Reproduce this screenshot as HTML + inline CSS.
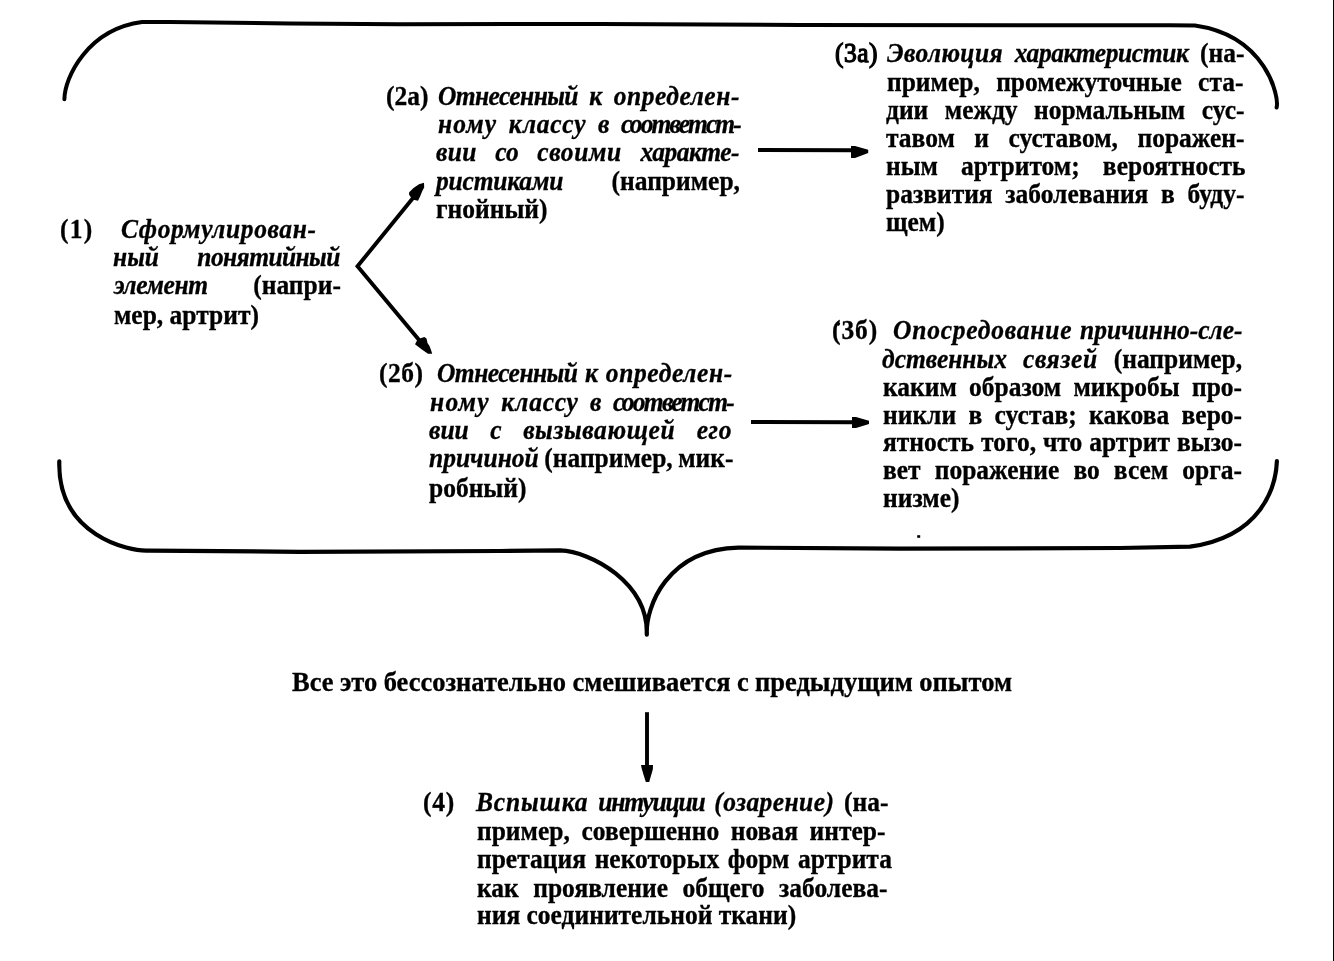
<!DOCTYPE html>
<html><head><meta charset="utf-8"><title>diagram</title>
<style>
html,body{margin:0;padding:0;background:#fff;}
body{width:1334px;height:961px;position:relative;overflow:hidden;font-family:"Liberation Serif",serif;font-weight:bold;color:#000;}
.ln{position:absolute;white-space:nowrap;line-height:28px;-webkit-text-stroke:0.3px #000;transform:scaleY(1.07);will-change:transform;}
.j{display:flex;justify-content:space-between;align-items:baseline;}
.j>span{display:block;}
i{font-style:italic;}
</style></head><body>
<svg width="1334" height="961" viewBox="0 0 1334 961" style="position:absolute;left:0;top:0">
<g fill="none" stroke="#000" stroke-linecap="round" stroke-linejoin="round">
  <path stroke-width="4" d="M64.4,99.3 C64.5,77.5 87.6,29.1 142.1,22 L170,21.9 L290,23.4 L400,24.2 L600,24 L800,25 L1170,25.3 L1195,25.4 C1266.5,35.7 1279.4,96.9 1276.6,107.5"/>
  <path stroke-width="4.2" d="M59.3,461.3 C57.2,535.8 129.5,551.6 148.4,550.6 L300,551.8 L500,551 L560,550.4 C590.8,551.4 648.5,582.8 646.8,634.7 C645.5,607 667,549.3 738.4,547.6 L900,548.7 L1120,548 L1190,546.6 C1261.8,536.5 1275.9,486.6 1276.9,461.2"/>
  <path stroke-width="3.9" stroke-linejoin="miter" stroke-linecap="butt" d="M413,198 L357.5,266.3 L419.5,340.5"/>
  <path stroke-width="3.9" stroke-linecap="butt" d="M758,150 L853,150.2"/>
  <path stroke-width="3.9" stroke-linecap="butt" d="M751,422 L854,422.2"/>
  <path stroke-width="3.9" stroke-linecap="butt" d="M647,712.2 L647,766"/>
</g>
<g fill="#000" stroke="none">
  <path d="M424,182.8 L424.2,187.5 L422.3,191 L420.3,196 L418,200.8 L412.3,199.6 L409,194.5 L409.2,192.2 L413.5,188 L419,184.2 Z"/>
  <path d="M432.2,353.8 L428,353.8 L421.5,349.3 L415,344.3 L417,340.5 L420,338.6 L424.3,336.9 L426.5,338.5 L427.5,343 L429.5,346 L431,350 Z"/>
  <path d="M851,146 L855,146 L868.2,149.8 L868.2,153 L855,158 L851,158 Z"/>
  <path d="M852,417 L856,417 L869,420.8 L869,424 L856,428 L852,428 Z"/>
  <path d="M641,765 L653,765 L652.8,769.5 L649.2,782 L645.8,782 L641.8,769 Z"/>
  <rect x="1333" y="0" width="1" height="961"/>
  <rect x="917.2" y="535.2" width="3" height="2.6"/>
  <ellipse cx="838.6" cy="324" rx="1.4" ry="2" transform="rotate(25 838.6 324)"/>
</g>
</svg>

<div class="ln" style="left:60.0px;top:215.89px;font-size:25.5px;transform-origin:0 22.61px;"><span style="letter-spacing:1.2px">(1)</span></div>
<div class="ln" style="left:120.5px;top:215.89px;font-size:25.5px;transform-origin:0 22.61px;"><i style="letter-spacing:0.6px">Сформулирован-</i></div>
<div class="ln j" style="left:112.7px;top:243.59px;font-size:25.5px;transform-origin:0 22.61px;width:226.8px;"><span><i>ный</i></span><span><i style="letter-spacing:-0.6px">понятийный</i></span></div>
<div class="ln j" style="left:113.6px;top:271.79px;font-size:25.5px;transform-origin:0 22.61px;width:226.9px;"><span><i style="letter-spacing:-0.4px">элемент</i></span><span>(напри-</span></div>
<div class="ln" style="left:113.6px;top:301.89px;font-size:25.5px;transform-origin:0 22.61px;">мер, артрит)</div>
<div class="ln" style="left:386.0px;top:82.99px;font-size:25.5px;transform-origin:0 22.61px;">(2а)</div>
<div class="ln j" style="left:437.5px;top:82.99px;font-size:25.5px;transform-origin:0 22.61px;width:302.0px;"><span><i style="letter-spacing:-0.6px">Отнесенный</i></span><span><i>к</i></span><span><i style="letter-spacing:0.55px">определен-</i></span></div>
<div class="ln j" style="left:437.5px;top:111.19px;font-size:25.5px;transform-origin:0 22.61px;width:302.0px;"><span><i style="letter-spacing:1.1px">ному</i></span><span><i style="letter-spacing:0.75px">классу</i></span><span><i>в</i></span><span><i style="letter-spacing:-1.85px">соответст-</i></span></div>
<div class="ln j" style="left:436.0px;top:138.99px;font-size:25.5px;transform-origin:0 22.61px;width:303.0px;"><span><i style="letter-spacing:0.3px">вии</i></span><span><i>со</i></span><span><i style="letter-spacing:0.6px">своими</i></span><span><i style="letter-spacing:-0.5px">характе-</i></span></div>
<div class="ln j" style="left:435.5px;top:167.89px;font-size:25.5px;transform-origin:0 22.61px;width:304.0px;"><span><i style="letter-spacing:-0.2px">ристиками</i></span><span>(например,</span></div>
<div class="ln" style="left:435.5px;top:195.89px;font-size:25.5px;transform-origin:0 22.61px;">гнойный)</div>
<div class="ln" style="left:379.4px;top:360.49px;font-size:25.5px;transform-origin:0 22.61px;"><span style="letter-spacing:0.5px">(2б)</span></div>
<div class="ln j" style="left:437.0px;top:360.49px;font-size:25.5px;transform-origin:0 22.61px;width:296.0px;"><span><i style="letter-spacing:-0.55px">Отнесенный</i></span><span><i>к</i></span><span><i style="letter-spacing:0.65px">определен-</i></span></div>
<div class="ln j" style="left:430.0px;top:388.59px;font-size:25.5px;transform-origin:0 22.61px;width:303.0px;"><span><i style="letter-spacing:1.25px">ному</i></span><span><i style="letter-spacing:0.75px">классу</i></span><span><i>в</i></span><span><i style="letter-spacing:-1.75px">соответст-</i></span></div>
<div class="ln j" style="left:429.0px;top:417.19px;font-size:25.5px;transform-origin:0 22.61px;width:303.0px;"><span><i>вии</i></span><span><i>с</i></span><span><i style="letter-spacing:0.6px">вызывающей</i></span><span><i style="letter-spacing:0.6px">его</i></span></div>
<div class="ln j" style="left:428.5px;top:445.39px;font-size:25.5px;transform-origin:0 22.61px;width:304.5px;"><span><i>причиной</i></span><span>(например,</span><span>мик-</span></div>
<div class="ln" style="left:428.5px;top:474.59px;font-size:25.5px;transform-origin:0 22.61px;">робный)</div>
<div class="ln" style="left:834.6px;top:39.79px;font-size:25.5px;transform-origin:0 22.61px;font-weight:normal;-webkit-text-stroke:1.2px #000;"><span style="letter-spacing:0.5px">(3а)</span></div>
<div class="ln j" style="left:887.0px;top:39.79px;font-size:25.5px;transform-origin:0 22.61px;width:357.5px;"><span><i style="letter-spacing:0.38px">Эволюция</i></span><span><i style="letter-spacing:-0.42px">характеристик</i></span><span>(на-</span></div>
<div class="ln j" style="left:887.0px;top:68.59px;font-size:25.5px;transform-origin:0 22.61px;width:356.5px;"><span>пример,</span><span>промежуточные</span><span>ста-</span></div>
<div class="ln j" style="left:886.0px;top:96.59px;font-size:25.5px;transform-origin:0 22.61px;width:358.5px;"><span>дии</span><span>между</span><span>нормальным</span><span>сус-</span></div>
<div class="ln j" style="left:886.0px;top:124.79px;font-size:25.5px;transform-origin:0 22.61px;width:358.5px;"><span>тавом</span><span>и</span><span>суставом,</span><span>поражен-</span></div>
<div class="ln j" style="left:886.0px;top:152.99px;font-size:25.5px;transform-origin:0 22.61px;width:359.5px;"><span>ным</span><span>артритом;</span><span>вероятность</span></div>
<div class="ln j" style="left:886.0px;top:180.99px;font-size:25.5px;transform-origin:0 22.61px;width:358.5px;"><span>развития</span><span>заболевания</span><span>в</span><span>буду-</span></div>
<div class="ln" style="left:886.0px;top:209.09px;font-size:25.5px;transform-origin:0 22.61px;">щем)</div>
<div class="ln" style="left:832.0px;top:317.09px;font-size:25.5px;transform-origin:0 22.61px;"><span style="letter-spacing:0.9px">(3б)</span></div>
<div class="ln j" style="left:893.0px;top:317.09px;font-size:25.5px;transform-origin:0 22.61px;width:349.5px;"><span><i style="letter-spacing:0.78px">Опосредование</i></span><span><i>причинно-сле-</i></span></div>
<div class="ln j" style="left:882.3px;top:345.89px;font-size:25.5px;transform-origin:0 22.61px;width:360.2px;"><span><i>дственных</i></span><span><i style="letter-spacing:0.65px">связей</i></span><span>(например,</span></div>
<div class="ln j" style="left:883.4px;top:373.99px;font-size:25.5px;transform-origin:0 22.61px;width:359.1px;"><span>каким</span><span>образом</span><span>микробы</span><span>про-</span></div>
<div class="ln j" style="left:883.4px;top:401.59px;font-size:25.5px;transform-origin:0 22.61px;width:359.1px;"><span>никли</span><span>в</span><span>сустав;</span><span>какова</span><span>веро-</span></div>
<div class="ln j" style="left:883.4px;top:428.99px;font-size:25.5px;transform-origin:0 22.61px;width:359.1px;"><span>ятность</span><span>того,</span><span>что</span><span>артрит</span><span>вызо-</span></div>
<div class="ln j" style="left:883.4px;top:457.29px;font-size:25.5px;transform-origin:0 22.61px;width:359.1px;"><span>вет</span><span>поражение</span><span>во</span><span>всем</span><span>орга-</span></div>
<div class="ln" style="left:883.4px;top:484.89px;font-size:25.5px;transform-origin:0 22.61px;">низме)</div>
<div class="ln j" style="left:292.0px;top:667.76px;font-size:26.5px;transform-origin:0 22.94px;width:720.0px;"><span>Все</span><span>это</span><span>бессознательно</span><span>смешивается</span><span>с</span><span>предыдущим</span><span>опытом</span></div>
<div class="ln" style="left:423.4px;top:788.99px;font-size:25.5px;transform-origin:0 22.61px;"><span style="letter-spacing:0.8px">(4)</span></div>
<div class="ln j" style="left:476.0px;top:788.99px;font-size:25.5px;transform-origin:0 22.61px;width:412.5px;"><span><i style="letter-spacing:0.85px">Вспышка</i></span><span><i style="letter-spacing:-1.15px">интуиции</i></span><span><i style="letter-spacing:0.42px">(озарение)</i></span><span>(на-</span></div>
<div class="ln j" style="left:477.0px;top:817.99px;font-size:25.5px;transform-origin:0 22.61px;width:408.5px;"><span>пример,</span><span>совершенно</span><span>новая</span><span>интер-</span></div>
<div class="ln j" style="left:477.0px;top:846.19px;font-size:25.5px;transform-origin:0 22.61px;width:415.0px;"><span>претация</span><span>некоторых</span><span>форм</span><span>артрита</span></div>
<div class="ln j" style="left:477.0px;top:874.59px;font-size:25.5px;transform-origin:0 22.61px;width:410.5px;"><span>как</span><span>проявление</span><span>общего</span><span>заболева-</span></div>
<div class="ln" style="left:477.0px;top:902.39px;font-size:25.5px;transform-origin:0 22.61px;">ния соединительной ткани)</div>
</body></html>
